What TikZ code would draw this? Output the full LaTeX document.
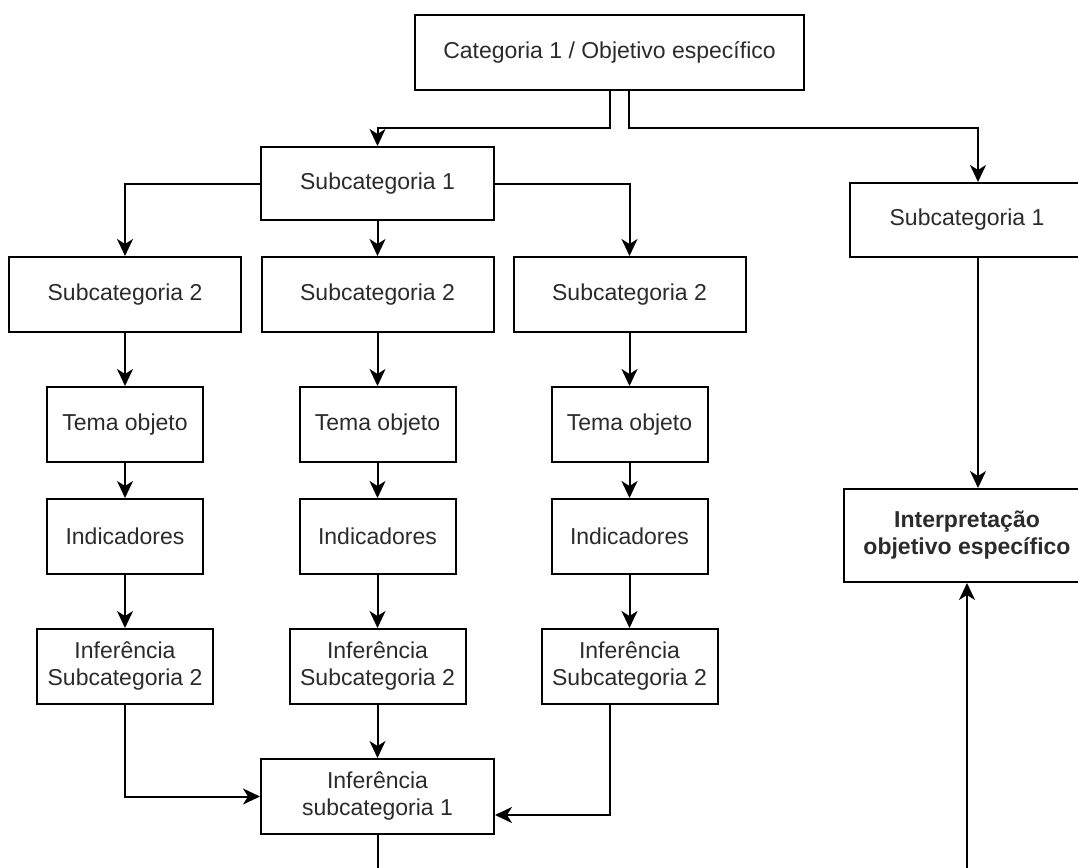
\documentclass[tikz,border=0pt]{standalone}
\usepackage{fontspec}
\setmainfont{Liberation Sans}
\usepackage{tikz}
\usetikzlibrary{arrows.meta,positioning,calc}
\definecolor{InkGray}{HTML}{2B2B2B}

\begin{document}
\begin{tikzpicture}[x=1pt,y=-1pt,>={Stealth[length=17pt,width=16pt,inset=5pt]},
  every node/.style={font=\fontsize{23}{27}\selectfont,align=center,text=InkGray},
  box/.style={draw=black,line width=2pt,fill=white,inner sep=0pt},
  arr/.style={->,line width=2pt,draw=black}]
  \useasboundingbox (0,0) rectangle (1078,867);
  \clip (0,0) rectangle (1078,867);
  \node[box,minimum width=389pt,minimum height=75pt] (cat) at (609.5,52.5) {Categoria 1 / Objetivo específico};
  \node[box,minimum width=233pt,minimum height=73pt] (sub1) at (377.5,183.5) {Subcategoria 1};
  \node[box,minimum width=234pt,minimum height=74pt] (sub1r) at (967,220) {Subcategoria 1};
  \node[box,minimum width=246pt,minimum height=93pt,font=\bfseries\fontsize{23}{27}\selectfont] (interp) at (967,535.5) {Interpretação\\objetivo específico};
  \foreach \i/\x in {1/125,2/377.5,3/629.5}{
    \node[box,minimum width=232pt,minimum height=75pt] (sub2\i) at (\x,294.5) {Subcategoria 2};
    \node[box,minimum width=156pt,minimum height=75pt] (tema\i) at (\x,424.5) {Tema objeto};
    \node[box,minimum width=156pt,minimum height=75pt] (ind\i) at (\x,536.5) {Indicadores};
    \node[box,minimum width=176pt,minimum height=75pt] (inf\i) at (\x,666.5) {Inferência\\Subcategoria 2};
    \draw[arr] (sub2\i) -- (tema\i);
    \draw[arr] (tema\i) -- (ind\i);
    \draw[arr] (ind\i) -- (inf\i);
  }
  \node[box,minimum width=233pt,minimum height=75pt] (infsub) at (377.5,796.5) {Inferência\\subcategoria 1};
  \draw[arr] (cat.south) -- ++(0,37) -| (sub1.north);
  \draw[arr] ([xshift=19.5pt]cat.south) -- ++(0,37) -| ([xshift=11pt]sub1r.north);
  \draw[arr] (sub1.west) -| (sub21.north);
  \draw[arr] (sub1.south) -- (sub22.north);
  \draw[arr] (sub1.east) -| (sub23.north);
  \draw[arr] ([xshift=11pt]sub1r.south) -- ([xshift=11pt]interp.north);
  \draw[arr] (inf1.south) |- (infsub.west);
  \draw[arr] (inf2.south) -- (infsub.north);
  \draw[arr] ([xshift=-19.5pt]inf3.south) |- ([yshift=-18.5pt]infsub.east);
  \draw[arr] (infsub.south) -- ++(0,80) -| (interp.south);
\end{tikzpicture}
\end{document}
